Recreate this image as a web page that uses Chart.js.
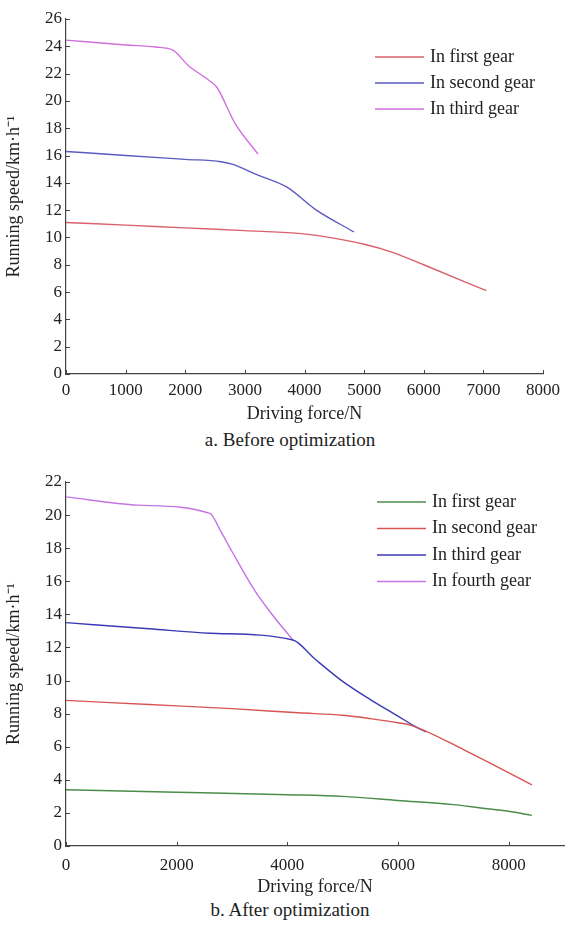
<!DOCTYPE html>
<html>
<head>
<meta charset="utf-8">
<script src="https://cdn.jsdelivr.net/npm/chart.js@4"></script>
<style>
  body { margin: 0; background: #fff; }
  #page { position: relative; width: 566px; height: 931px; font-family: "Liberation Serif", serif; color: #222; }
  .box { position: absolute; left: 0; width: 566px; }
  .cap { position: absolute; left: 14px; width: 552px; text-align: center; font-size: 19px; line-height: 22px; }
</style>
</head>
<body>
<div id="page">
  <div class="box" style="top:0;height:425px"><canvas id="chartA"></canvas></div>
  <div class="cap" style="top:429px">a. Before optimization</div>
  <div class="box" style="top:460px;height:438px"><canvas id="chartB"></canvas></div>
  <div class="cap" style="top:899px">b. After optimization</div>
</div>
<script>
// a. Before optimization
const labelsA = ['In first gear', 'In second gear', 'In third gear'];
const ticksA = [0, 1000, 2000, 3000, 4000, 5000, 6000, 7000, 8000];
const forceA1 = [0, 1000, 2000, 3000, 3900, 4200, 5000, 5450, 6000, 7050];
const speedA1 = [11.1, 10.9, 10.7, 10.5, 10.3, 10.15, 9.5, 8.95, 8.0, 6.1];
const forceA2 = [0, 1000, 2000, 2600, 2800, 3200, 3700, 4200, 4830];
const speedA2 = [16.3, 16.0, 15.72, 15.55, 15.35, 14.6, 13.7, 12.0, 10.4];
const forceA3 = [0, 1000, 1500, 1800, 2050, 2400, 2530, 2830, 3220];
const speedA3 = [24.45, 24.1, 23.95, 23.7, 22.6, 21.5, 21.0, 18.4, 16.1];

// b. After optimization
const labelsB = ['In first gear', 'In second gear', 'In third gear', 'In fourth gear'];
const ticksB = [0, 2000, 4000, 6000, 8000];
const forceB1 = [0, 2000, 4000, 5000, 6000, 7000, 7500, 8000, 8420];
const speedB1 = [3.4, 3.25, 3.1, 3.0, 2.75, 2.5, 2.3, 2.1, 1.85];
const forceB2 = [0, 1500, 3000, 4200, 5000, 5500, 6000, 6250, 7200, 8420];
const speedB2 = [8.8, 8.55, 8.3, 8.05, 7.9, 7.7, 7.45, 7.28, 5.8, 3.7];
const forceB3 = [0, 1500, 2600, 4100, 4500, 5000, 5500, 6000, 6300, 6500];
const speedB3 = [13.5, 13.13, 12.86, 12.45, 11.3, 9.95, 8.85, 7.85, 7.25, 6.9];
const forceB4 = [0, 1300, 2600, 2800, 3000, 3400, 3700, 4100];
const speedB4 = [21.1, 20.6, 20.1, 19.0, 17.8, 15.5, 14.1, 12.45];

const colorsA = ['#d9606c', '#5a5ac4', '#d070dc'];
const colorsB = ['#4a8c4a', '#d85454', '#3a3ab4', '#c474e4'];

const font = '"Liberation Serif", "Times New Roman", serif';

function pts(xs, ys) {
  return xs.map((x, i) => ({ x: x, y: ys[i] }));
}

// legend drawn inside the plot, like the original
const insideLegend = {
  id: 'insideLegend',
  afterDatasetsDraw(chart, args, opts) {
    const ctx = chart.ctx;
    ctx.save();
    ctx.font = '18px ' + font;
    ctx.textBaseline = 'middle';
    chart.data.datasets.forEach((ds, i) => {
      const y = opts.top + i * opts.gap;
      ctx.strokeStyle = ds.borderColor;
      ctx.lineWidth = 1.5;
      ctx.beginPath();
      ctx.moveTo(opts.x1, y);
      ctx.lineTo(opts.x2, y);
      ctx.stroke();
      ctx.fillStyle = '#222';
      ctx.fillText(ds.label, opts.x2 + 6, y);
    });
    ctx.restore();
  }
};

// small tick marks pointing into the plot
const innerTicks = {
  id: 'innerTicks',
  afterDraw(chart) {
    const ctx = chart.ctx;
    const xs = chart.scales.x, ys = chart.scales.y;
    ctx.save();
    ctx.strokeStyle = '#444';
    ctx.lineWidth = 1;
    ctx.beginPath();
    xs.ticks.forEach(t => {
      const px = Math.round(xs.getPixelForValue(t.value)) + 0.5;
      ctx.moveTo(px, ys.bottom);
      ctx.lineTo(px, ys.bottom - 4);
    });
    ys.ticks.forEach(t => {
      const py = Math.round(ys.getPixelForValue(t.value)) + 0.5;
      ctx.moveTo(xs.left, py);
      ctx.lineTo(xs.left + 4, py);
    });
    ctx.stroke();
    ctx.restore();
  }
};

function makeChart(id, labels, series, colors, xTicks, opt) {
  const datasets = series.map((s, i) => ({
    label: labels[i],
    data: pts(s[0], s[1]),
    borderColor: colors[i],
    backgroundColor: colors[i],
    borderWidth: 1.4,
    pointRadius: 0,
    cubicInterpolationMode: 'monotone',
    fill: false
  }));
  return new Chart(document.getElementById(id), {
    type: 'line',
    data: { datasets: datasets },
    plugins: [insideLegend, innerTicks],
    options: {
      responsive: true,
      maintainAspectRatio: false,
      animation: false,
      layout: { padding: { top: opt.padTop, right: opt.padRight, left: 0, bottom: 0 } },
      plugins: {
        legend: { display: false },
        tooltip: { enabled: false },
        insideLegend: opt.legend
      },
      scales: {
        x: {
          type: 'linear',
          min: 0,
          max: opt.xMax,
          grid: { display: false, drawTicks: false, tickLength: 0 },
          border: { display: true, color: '#444', width: 1.2 },
          afterBuildTicks: s => { s.ticks = xTicks.map(v => ({ value: v })); },
          ticks: { padding: opt.xPad, color: '#222', font: { family: font, size: 17 }, maxRotation: 0, callback: v => String(v) },
          title: { display: true, text: 'Driving force/N', color: '#222', font: { family: font, size: 18 }, padding: { top: 0, bottom: 0 } },
          afterFit: s => { s.height = opt.xHeight; }
        },
        y: {
          min: 0,
          max: opt.yMax,
          grid: { display: false, drawTicks: false, tickLength: 0 },
          border: { display: true, color: '#444', width: 1.2 },
          ticks: { stepSize: 2, padding: 4, color: '#222', font: { family: font, size: 17 } },
          title: { display: true, text: 'Running speed/km·h⁻¹', color: '#222', font: { family: font, size: 18 }, padding: { top: 3, bottom: 0 } },
          afterFit: s => { s.width = 66; }
        }
      }
    }
  });
}

makeChart('chartA', labelsA,
  [[forceA1, speedA1], [forceA2, speedA2], [forceA3, speedA3]],
  colorsA, ticksA,
  { padTop: 19, padRight: 20, xMax: 8000, yMax: 26, xHeight: 51, xPad: 6,
    legend: { x1: 375, x2: 424, top: 57, gap: 26 } });

makeChart('chartB', labelsB,
  [[forceB1, speedB1], [forceB2, speedB2], [forceB3, speedB3], [forceB4, speedB4]],
  colorsB, ticksB,
  { padTop: 22, padRight: 2, xMax: 9000, yMax: 22, xHeight: 52, xPad: 9,
    legend: { x1: 377, x2: 426, top: 42, gap: 26.5 } });
</script>
</body>
</html>
